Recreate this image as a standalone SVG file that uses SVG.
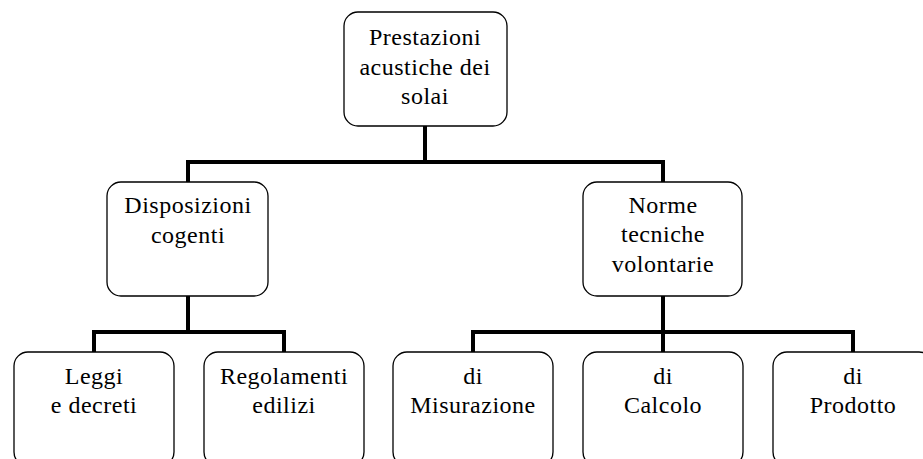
<svg xmlns="http://www.w3.org/2000/svg" width="923" height="459" viewBox="0 0 923 459">
<style>
.box{fill:#fff;stroke:#000;stroke-width:1.3}
.t{font-family:"Liberation Serif","Times New Roman",serif;font-size:24px;letter-spacing:0.5px;text-anchor:middle;fill:#000}
.c{fill:none;stroke:#000;stroke-width:4;stroke-linecap:square;stroke-linejoin:miter}
</style>
<rect width="923" height="459" fill="#fff"/>
<g id="connectors">
<path class="c" d="M425,127 V162 M188,162 H663 M188,162 V181 M663,162 V181"/>
<path class="c" d="M188,297 V332 M94,332 H284 M94,332 V351 M284,332 V351"/>
<path class="c" d="M663,297 V351 M473,332 H853 M473,332 V351 M853,332 V351"/>
</g>
<g id="root">
<rect class="box" x="344" y="12" width="163" height="114" rx="14"/>
<text class="t" x="425" y="45">Prestazioni</text>
<text class="t" x="425" y="75">acustiche dei</text>
<text class="t" x="425" y="104">solai</text>
</g>
<g id="disposizioni">
<rect class="box" x="107" y="182" width="161" height="114" rx="14"/>
<text class="t" x="188" y="213">Disposizioni</text>
<text class="t" x="188" y="243">cogenti</text>
</g>
<g id="norme">
<rect class="box" x="583" y="182" width="159" height="114" rx="14"/>
<text class="t" x="663" y="213">Norme</text>
<text class="t" x="663" y="242">tecniche</text>
<text class="t" x="663" y="272">volontarie</text>
</g>
<g id="leggi">
<rect class="box" x="14" y="352" width="160" height="114" rx="14"/>
<text class="t" x="94" y="384">Leggi</text>
<text class="t" x="94" y="413">e decreti</text>
</g>
<g id="regolamenti">
<rect class="box" x="204" y="352" width="160" height="114" rx="14"/>
<text class="t" x="284" y="384">Regolamenti</text>
<text class="t" x="284" y="413">edilizi</text>
</g>
<g id="misurazione">
<rect class="box" x="393" y="352" width="160" height="114" rx="14"/>
<text class="t" x="473" y="384">di</text>
<text class="t" x="473" y="413">Misurazione</text>
</g>
<g id="calcolo">
<rect class="box" x="583" y="352" width="160" height="114" rx="14"/>
<text class="t" x="663" y="384">di</text>
<text class="t" x="663" y="413">Calcolo</text>
</g>
<g id="prodotto">
<rect class="box" x="773" y="352" width="160" height="114" rx="14"/>
<text class="t" x="853" y="384">di</text>
<text class="t" x="853" y="413">Prodotto</text>
</g>
</svg>
